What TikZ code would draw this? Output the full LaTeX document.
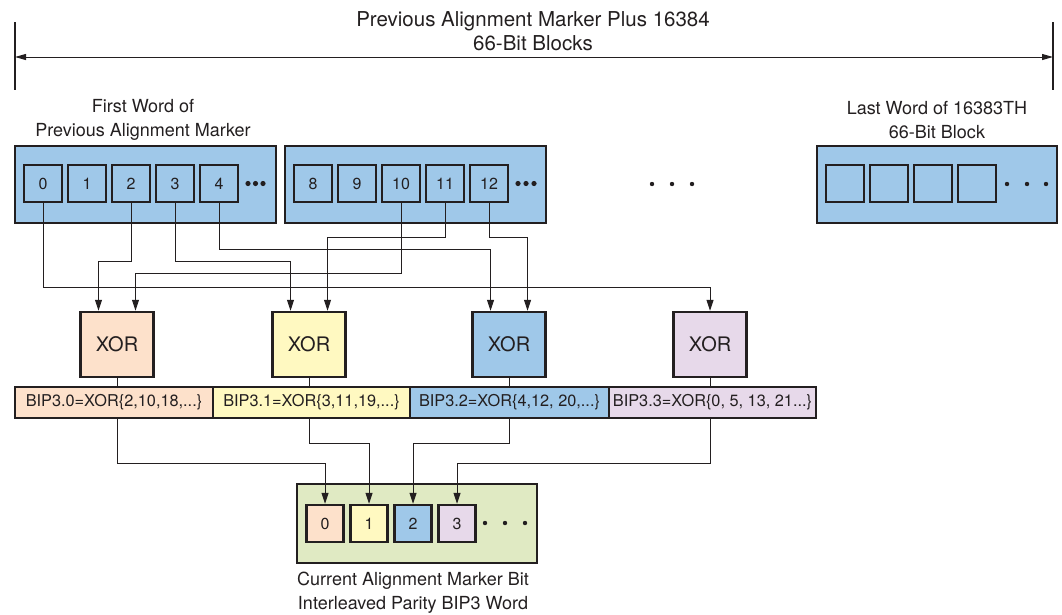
\documentclass[tikz,border=0pt]{standalone}
\usepackage{fontspec}
\setmainfont{TeX Gyre Heros}
\usetikzlibrary{arrows.meta}
\definecolor{ink}{RGB}{35,31,32}
\definecolor{wordblue}{RGB}{159,200,233}
\definecolor{bippeach}{RGB}{253,225,203}
\definecolor{bipyellow}{RGB}{255,249,193}
\definecolor{biplilac}{RGB}{231,217,234}
\definecolor{markgreen}{RGB}{224,234,195}
\begin{document}
\begin{tikzpicture}[%
    x=1pt, y=-1pt,
    wordbox/.style={draw=ink, line width=2.4pt, fill=wordblue, minimum height=77pt, inner sep=0pt},
    bitcell/.style={draw=ink, line width=2.4pt, minimum width=38pt, minimum height=37pt, inner sep=0pt,
                    text=ink, font=\fontsize{16}{18}\selectfont},
    xorbox/.style={draw=ink, line width=2.4pt, minimum width=73pt, minimum height=65pt, inner sep=0pt,
                   text=ink, font=\fontsize{20}{24}\selectfont},
    bipstrip/.style={draw=ink, line width=2.4pt, minimum height=31pt, inner sep=0pt,
                     text=ink, font=\fontsize{16.3}{18}\selectfont},
    caption/.style={align=center, text=ink, font=\fontsize{18}{24}\selectfont},
    link/.style={draw=ink, line width=1pt},
    wire/.style={link, -{Triangle[length=11pt,width=7pt]}},
    mydot/.style={fill=ink}
  ]
  \useasboundingbox (0,0) rectangle (1062,614);

  % span of the previous alignment marker
  \coordinate (dl) at (15,57);
  \coordinate (dr) at (1053,57);
  \draw[ink, line width=1.2pt] (15,22) -- (15,90) (1053,22) -- (1053,90);
  \draw[ink, line width=1pt, {Triangle[length=11pt,width=6pt]}-{Triangle[length=11pt,width=6pt]}] (dl) -- (dr);
  \node[caption, font=\fontsize{20.5}{24}\selectfont] (span) at (533,31)
    {Previous Alignment Marker Plus 16384\\66-Bit Blocks};

  \node[caption] (firstlbl) at (143,120) {First Word of\\Previous Alignment Marker};
  \node[caption] (lastlbl) at (937,120) {Last Word of 16383TH\\66-Bit Block};

  % words of 66-bit blocks
  \node[wordbox, minimum width=261pt] (w1) at (145.5,184.5) {};
  \node[wordbox, minimum width=261pt] (w2) at (415.5,184.5) {};
  \node[wordbox, minimum width=240pt] (w3) at (937,184.5) {};
  \foreach \n in {0,...,4}
    \node[bitcell, fill=wordblue] (c\n) at ({43+44*\n},183.5) {\n};
  \foreach \n in {8,...,12}
    \node[bitcell, fill=wordblue] (c\n) at ({313+44*(\n-8)},183.5) {\n};
  \foreach \n in {1,...,4}
    \node[bitcell, fill=wordblue] (e\n) at ({845+44*(\n-1)},183.5) {};
  \foreach \dx in {248,255.5,263,518,526,534}
    \fill[mydot] (\dx,183.5) circle (2.6);
  \foreach \dx in {652,672,692,1007,1027,1046}
    \fill[mydot] (\dx,184) circle (2.2);

  % parity calculation
  \foreach \k/\cx/\col in {0/117/bippeach,1/309/bipyellow,2/509/wordblue,3/710/biplilac}
    \node[xorbox, fill=\col] (x\k) at (\cx,344.5) {XOR};
  \node[bipstrip, fill=bippeach, minimum width=198pt] (s0) at (114,402.5) {BIP3.0=XOR\{2,10,18,...\}};
  \node[bipstrip, fill=bipyellow, minimum width=197pt] (s1) at (311.5,402.5) {BIP3.1=XOR\{3,11,19,...\}};
  \node[bipstrip, fill=wordblue, minimum width=199pt] (s2) at (509.5,402.5) {BIP3.2=XOR\{4,12, 20,...\}};
  \node[bipstrip, fill=biplilac, minimum width=207pt] (s3) at (712.5,402.5) {BIP3.3=XOR\{0, 5, 13, 21...\}};

  \draw[wire] (c0.south) -- (c0.south |- 0,287) -| (x3.north);
  \draw[wire] (c2.south) -- (c2.south |- 0,261) -| ([xshift=-18.5pt]x0.north);
  \draw[wire] (c3.south) -- (c3.south |- 0,261) -| ([xshift=-18.5pt]x1.north);
  \draw[wire] (c4.south) -- (c4.south |- 0,249) -| ([xshift=-18.5pt]x2.north);
  \draw[wire] (c10.south) -- (c10.south |- 0,273) -| ([xshift=18.5pt]x0.north);
  \draw[wire] (c11.south) -- (c11.south |- 0,237) -| ([xshift=18.5pt]x1.north);
  \draw[wire] (c12.south) -- (c12.south |- 0,237) -| ([xshift=18.5pt]x2.north);

  % current alignment marker
  \node[wordbox, fill=markgreen, minimum width=240pt, minimum height=79pt] (m) at (417,523.5) {};
  \foreach \k/\col in {0/bippeach,1/bipyellow,2/wordblue,3/biplilac}
    \node[bitcell, fill=\col, minimum width=37pt] (p\k) at ({325+44*\k},523.5) {\k};
  \foreach \dx in {485,505,525}
    \fill[mydot] (\dx,523) circle (2.2);
  \node[caption] (marklbl) at (413,592.5) {Current Alignment Marker Bit\\Interleaved Parity BIP3 Word};

  \foreach \k/\y in {0/463,1/443,2/443,3/463} {
    \draw[link] (x\k.south) -- (x\k.south |- s\k.north);
    \draw[wire] (x\k.south |- s\k.south) |- (p\k.north |- 0,\y) -- (p\k.north);
  }
\end{tikzpicture}
\end{document}
